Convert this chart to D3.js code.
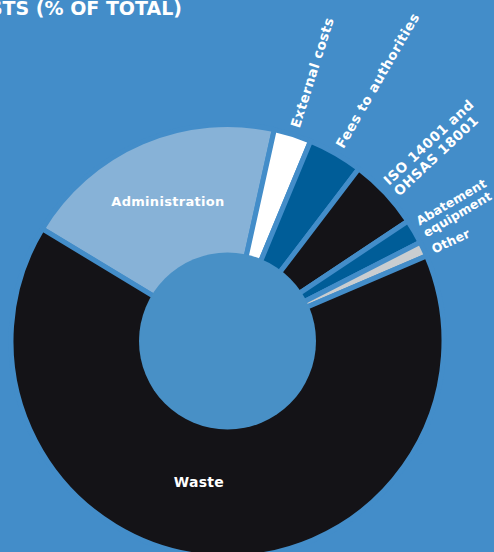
<!DOCTYPE html>
<html>
<head>
<meta charset="utf-8">
<script src="https://cdn.jsdelivr.net/npm/d3@7"></script>
<style>
    html, body { margin: 0; padding: 0; background: #438dc9; overflow: hidden; }
    svg { display: block; font-family: "DejaVu Sans", sans-serif; }
</style>
</head>
<body>
<div id="chart"></div>
<script>
'use strict';

// Cost shares, clockwise from the Administration slice (% of total)
const categories = ['Administration', 'External costs', 'Fees to authorities',
    'ISO 14001 and OHSAS 18001', 'Abatement equipment', 'Other', 'Waste'];
const shares = [19.8, 2.8, 4.1, 5.3, 1.8, 1.1, 65.1];
// How each label is broken into lines
const labelLines = [
    ['Administration'], ['External costs'], ['Fees to authorities'],
    ['ISO 14001 and', 'OHSAS 18001'], ['Abatement', 'equipment'], ['Other'], ['Waste']
];
// Labels drawn inside the ring, the rest are rotated outside
const insideLabels = ['Administration', 'Waste'];
const title = 'COSTS (% OF TOTAL)';

const palette = {
    'Administration': '#87b2d7',
    'External costs': '#ffffff',
    'Fees to authorities': '#005d98',
    'ISO 14001 and OHSAS 18001': '#141317',
    'Abatement equipment': '#005d98',
    'Other': '#c9cdd0',
    'Waste': '#141317'
};
// Small hand nudges for label placement (px)
const labelNudge = { 'Waste': [-18, -10], 'Other': [2, 4] };

class RingChart {
    constructor(container, width, height) {
        this.width = width;
        this.height = height;
        this.bg = '#438dc9';

        this.svg = d3.select(container)
            .append('svg')
            .attr('width', width)
            .attr('height', height);

        // Ring centre sits a bit right of the middle, low in the frame
        this.chart = this.svg.append('g')
            .attr('transform', 'translate(227.5,341)');
    }

    render() {
        const data = categories.map((k, i) => ({ k: k, v: shares[i], lines: labelLines[i] }));
        const start = -58.8 * Math.PI / 180;
        const nudge = k => labelNudge[k] || [0, 0];

        let pieGen = d3.pie()
            .sort(null)
            .startAngle(start)
            .endAngle(start + 2 * Math.PI)
            .value(d => d.v);
        let pieData = pieGen(data);

        const outer = 216.5;
        let arcGen = d3.arc().innerRadius(0).outerRadius(outer);
        let labelArc = d3.arc().innerRadius(89).outerRadius(214);

        // Slices, separated by background-coloured strokes
        this.chart.selectAll('path')
            .data(pieData)
            .join('path')
            .attr('d', arcGen)
            .attr('fill', d => palette[d.data.k])
            .attr('stroke', this.bg)
            .attr('stroke-width', 5)
            .attr('stroke-linejoin', 'miter');

        // Hole in the middle
        this.chart.append('circle')
            .attr('r', 88.5)
            .attr('fill', '#4890c6');

        // Horizontal labels inside the big slices
        this.chart.selectAll('text.inside')
            .data(pieData.filter(d => insideLabels.includes(d.data.k)))
            .join('text')
            .attr('class', 'inside')
            .attr('transform', d => {
                const [x, y] = labelArc.centroid(d);
                const [nx, ny] = nudge(d.data.k);
                return `translate(${x + nx},${y + ny})`;
            })
            .attr('text-anchor', 'middle')
            .attr('dy', '0.35em')
            .attr('fill', '#fff')
            .attr('font-size', d => d.data.k === 'Waste' ? 14 : 13)
            .attr('font-weight', 'bold')
            .attr('letter-spacing', 0.3)
            .text(d => d.data.lines[0]);

        // Rotated labels running outward from the small slices
        const rLabel = 224;
        const tight = k => k === 'Abatement equipment' || k === 'Other';
        let outside = this.chart.selectAll('text.outside')
            .data(pieData.filter(d => !insideLabels.includes(d.data.k)))
            .join('text')
            .attr('class', 'outside')
            .attr('transform', d => {
                const a = (d.startAngle + d.endAngle) / 2;
                const [nx, ny] = nudge(d.data.k);
                const x = rLabel * Math.sin(a) + nx;
                const y = -rLabel * Math.cos(a) + ny;
                return `translate(${x},${y}) rotate(${a * 180 / Math.PI - 90})`;
            })
            .attr('fill', '#fff')
            .attr('font-size', d => tight(d.data.k) ? 12.5 : 13.5)
            .attr('font-weight', 'bold')
            .attr('letter-spacing', d => tight(d.data.k) ? 0.1 : 0.5);

        outside.selectAll('tspan')
            .data(d => d.data.lines.map((t, i, arr) => ({ t: t, i: i, n: arr.length })))
            .join('tspan')
            .attr('x', 0)
            .attr('dy', d => d.n === 1 ? '0.35em' : (d.i === 0 ? '-0.2em' : '1.1em'))
            .text(d => d.t);

        // Title, running off the left edge as in the source
        this.svg.append('text')
            .attr('x', 182)
            .attr('y', 15)
            .attr('text-anchor', 'end')
            .attr('fill', '#fff')
            .attr('font-size', 19)
            .attr('font-weight', 'bold')
            .text(title);
    }
}

const chart = new RingChart('#chart', 494, 552);
chart.render();
</script>
</body>
</html>
